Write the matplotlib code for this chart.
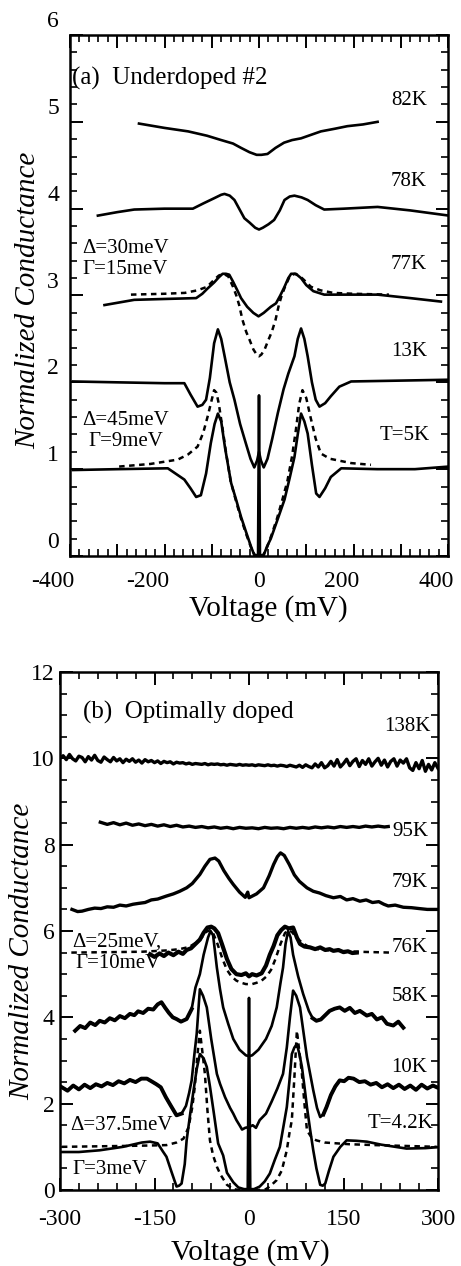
import matplotlib
matplotlib.use("Agg")
import matplotlib.pyplot as plt
import numpy as np
from matplotlib.ticker import MultipleLocator, FuncFormatter
from matplotlib.transforms import ScaledTranslation

plt.rcParams['font.family'] = ['Liberation Serif', 'DejaVu Serif']

# ---------------- Panel (a): Underdoped #2 ----------------
V82 = [-254, -200, -150, -110, -80, -55, -38, -20, -5, 5, 18, 35, 53, 70, 89, 110, 131, 160, 187, 220, 251]
G82 = [4.98, 4.93, 4.89, 4.84, 4.79, 4.75, 4.70, 4.65, 4.62, 4.62, 4.63, 4.70, 4.76, 4.79, 4.81, 4.85, 4.89, 4.92, 4.95, 4.97, 5.00]

V78 = [-341, -300, -264, -200, -140, -118, -95, -80, -73, -62, -52, -40, -31, -20, -8, 0, 8, 20, 32, 44,
       54, 65, 75, 90, 103, 120, 138, 180, 251, 320, 402]
G78 = [3.92, 3.96, 3.99, 4.00, 4.00, 4.06, 4.12, 4.16, 4.17, 4.15, 4.10, 3.98, 3.89, 3.84, 3.78, 3.76, 3.78, 3.82, 3.87, 3.98,
       4.10, 4.14, 4.15, 4.13, 4.10, 4.04, 3.99, 4.00, 4.02, 3.98, 3.92]

V77 = [-327, -264, -200, -133, -120, -109, -95, -85, -77, -70, -63, -55, -45, -38, -25, -12, -1, 10, 25, 36,
       45, 54, 62, 68, 78, 89, 100, 115, 138, 200, 251, 320, 385]
G77 = [2.89, 2.95, 2.96, 2.97, 3.02, 3.08, 3.15, 3.21, 3.25, 3.25, 3.24, 3.16, 3.05, 2.97, 2.87, 2.80, 2.76, 2.80, 2.87, 2.91,
       3.00, 3.10, 3.20, 3.25, 3.25, 3.20, 3.12, 3.05, 3.01, 3.01, 3.01, 2.97, 2.93]

V77fit = [-271, -200, -157, -130, -110, -95, -85, -75, -65, -55, -48, -42, -35, -27, -20, -12, -5, 0,
          5, 12, 20, 27, 35, 42, 48, 55, 65, 75, 85, 95, 110, 130, 157, 200, 275]
G77fit = [3.01, 3.02, 3.03, 3.06, 3.10, 3.18, 3.23, 3.25, 3.22, 3.10, 3.00, 2.89, 2.72, 2.58, 2.49, 2.38, 2.32, 2.30,
          2.32, 2.38, 2.49, 2.58, 2.72, 2.89, 3.00, 3.10, 3.22, 3.25, 3.23, 3.18, 3.10, 3.06, 3.03, 3.02, 3.01]

V13 = [-394, -300, -200, -158, -145, -130, -120, -112, -104, -95, -87, -80, -72, -62, -52, -40, -28, -18, -10, -4,
       0, 4, 10, 18, 28, 40, 52, 62, 75, 82, 89, 96, 103, 112, 120, 128, 140, 152, 170, 195, 300, 402]
G13 = [2.01, 2.00, 1.99, 1.99, 1.86, 1.72, 1.74, 1.80, 2.05, 2.45, 2.61, 2.50, 2.28, 2.00, 1.80, 1.52, 1.30, 1.12, 1.02, 1.10,
       1.20, 1.10, 1.02, 1.12, 1.35, 1.65, 1.92, 2.10, 2.30, 2.50, 2.62, 2.50, 2.30, 2.00, 1.80, 1.72, 1.76, 1.84, 1.95, 2.01, 2.02, 2.03]

V5 = [-394, -300, -193, -158, -145, -133, -123, -112, -102, -94, -87, -80, -72, -59, -48, -38, -27, -17, -10, -2,
      0, 2, 10, 17, 25, 38, 54, 65, 75, 82, 89, 96, 103, 112, 121, 128, 140, 152, 174, 250, 330, 402]
G5 = [0.99, 1.00, 1.01, 0.88, 0.78, 0.68, 0.70, 0.95, 1.30, 1.52, 1.64, 1.55, 1.25, 0.84, 0.64, 0.45, 0.27, 0.11, 0.01, 0.01,
      1.85, 0.01, 0.01, 0.11, 0.20, 0.40, 0.65, 0.90, 1.14, 1.40, 1.64, 1.55, 1.41, 1.05, 0.72, 0.68, 0.78, 0.91, 1.01, 1.00, 1.00, 1.03]

V5fit = [-296, -230, -172, -150, -130, -118, -109, -100, -95, -90, -85, -78, -70, -60, -48, -38, -27, -17, -8, 0,
         8, 17, 27, 38, 48, 60, 70, 78, 85, 92, 100, 109, 120, 131, 150, 195, 237]
G5fit = [1.03, 1.06, 1.11, 1.17, 1.26, 1.42, 1.60, 1.80, 1.91, 1.88, 1.75, 1.50, 1.20, 0.86, 0.62, 0.43, 0.25, 0.10, 0.0, 0.0,
         0.0, 0.10, 0.25, 0.43, 0.62, 0.86, 1.15, 1.45, 1.75, 1.91, 1.82, 1.60, 1.35, 1.18, 1.12, 1.07, 1.05]

# ---------------- Panel (b): Optimally doped ----------------
V138 = [-300, -295, -290, -285, -280, -275, -270, -265, -260, -255,
        -250, -245, -240, -235, -230, -225, -220, -215, -210, -205,
        -200, -195, -190, -185, -180, -175, -170, -165, -160, -155,
        -150, -145, -140, -135, -130, -125, -120, -115, -110, -105,
        -100, -95, -90, -85, -80, -75, -70, -65, -60, -55,
        -50, -45, -40, -35, -30, -25, -20, -15, -10, -5,
        0, 5, 10, 15, 20, 25, 30, 35, 40, 45,
        50, 55, 60, 65, 70, 75, 80, 85, 90, 95,
        100, 105, 110, 115, 120, 125, 130, 135, 140, 145,
        150, 155, 160, 165, 170, 175, 180, 185, 190, 195,
        200, 205, 210, 215, 220, 225, 230, 235, 240, 245,
        250, 255, 260, 265, 270, 275, 280, 285, 290, 295, 300]
G138 = [10.00, 10.06, 9.97, 10.09, 9.99, 9.94, 10.05, 10.02, 9.92, 10.04,
        9.96, 10.07, 9.95, 9.91, 10.03, 9.97, 9.92, 10.02, 9.94, 9.99,
        9.90, 9.98, 9.93, 9.99, 9.91, 9.96, 9.89, 9.97, 9.92, 9.95,
        9.90, 9.94, 9.88, 9.93, 9.90, 9.92, 9.87, 9.91, 9.89, 9.90,
        9.87, 9.89, 9.86, 9.88, 9.87, 9.86, 9.88, 9.85, 9.87, 9.86,
        9.87, 9.85, 9.86, 9.84, 9.86, 9.85, 9.84, 9.86, 9.84, 9.85,
        9.84, 9.85, 9.83, 9.85, 9.84, 9.83, 9.85, 9.83, 9.84, 9.82,
        9.84, 9.83, 9.81, 9.84, 9.82, 9.80, 9.84, 9.79, 9.85, 9.81,
        9.78, 9.87, 9.80, 9.90, 9.78, 9.83, 9.93, 9.82, 9.97, 9.80,
        9.88, 9.98, 9.83, 9.93, 9.99, 9.81, 9.95, 9.86, 9.99, 9.82,
        9.92, 10.00, 9.84, 9.96, 9.80, 9.93, 9.99, 9.82, 9.96, 9.89,
        9.99, 9.78, 9.72, 9.90, 9.76, 9.95, 9.70, 9.86, 9.73, 9.90, 9.77]

V95 = [-236, -225, -215, -205, -195, -185, -175, -165, -155, -145, -135, -125, -115, -105, -95, -85, -75, -65, -55, -45,
       -35, -25, -15, -5, 5, 15, 25, 35, 45, 55, 65, 75, 85, 95, 105, 115, 125, 135, 145, 155, 165, 175, 185, 195, 205, 215, 221]
G95 = [8.52, 8.47, 8.51, 8.46, 8.50, 8.45, 8.48, 8.44, 8.47, 8.43, 8.46, 8.42, 8.45, 8.41, 8.43, 8.40, 8.42, 8.39, 8.41, 8.38,
       8.40, 8.37, 8.40, 8.38, 8.39, 8.37, 8.40, 8.38, 8.39, 8.37, 8.40, 8.38, 8.40, 8.38, 8.41, 8.39, 8.41, 8.39, 8.42, 8.40,
       8.42, 8.40, 8.43, 8.41, 8.43, 8.41, 8.42]

V79 = [-281, -272, -265, -255, -245, -235, -225, -215, -205, -195, -184, -175, -165, -155, -145, -131, -120, -110, -99, -90,
       -78, -70, -62, -54, -48, -40, -32, -25, -15, -6, -2, 0, 4, 12, 23, 32, 39, 45, 50, 56,
       64, 72, 80, 92, 102, 112, 122, 134, 145, 155, 165, 176, 186, 196, 206, 214, 221, 232, 245, 258, 270, 283, 298]
G79 = [6.50, 6.45, 6.46, 6.50, 6.53, 6.52, 6.56, 6.55, 6.60, 6.58, 6.62, 6.64, 6.66, 6.72, 6.74, 6.81, 6.86, 6.92, 7.00, 7.10,
       7.31, 7.50, 7.66, 7.69, 7.62, 7.40, 7.22, 7.08, 6.90, 6.78, 6.90, 6.77, 6.80, 6.86, 7.00, 7.28, 7.54, 7.72, 7.81, 7.75,
       7.54, 7.30, 7.15, 7.00, 6.92, 6.88, 6.82, 6.77, 6.80, 6.72, 6.75, 6.69, 6.72, 6.66, 6.68, 6.62, 6.58, 6.60, 6.55, 6.54, 6.52, 6.50, 6.50]

V76 = [-157, -150, -142, -135, -128, -120, -112, -105, -99, -92, -85, -78, -72, -66, -60, -55, -49, -43, -35, -28,
       -20, -12, -5, 0, 5, 12, 20, 27, 33, 39, 45, 51, 57, 63, 70, 76, 81, 88, 97, 105,
       113, 121, 128, 134, 142, 150, 157, 164, 171]
G76 = [5.46, 5.40, 5.48, 5.42, 5.50, 5.44, 5.52, 5.47, 5.56, 5.60, 5.70, 5.80, 5.96, 6.08, 6.10, 6.06, 5.95, 5.70, 5.35, 5.12,
       5.00, 4.98, 5.02, 4.95, 5.00, 4.97, 5.02, 5.20, 5.45, 5.65, 5.90, 6.02, 6.10, 6.06, 6.08, 5.85, 5.70, 5.64, 5.62, 5.58,
       5.62, 5.56, 5.58, 5.54, 5.56, 5.51, 5.53, 5.49, 5.50]

V76fit = [-282, -220, -170, -130, -110, -95, -85, -75, -68, -62, -57, -50, -42, -35, -28, -20, -12, -5, 0,
          5, 12, 20, 28, 35, 42, 50, 57, 62, 68, 75, 85, 95, 110, 130, 170, 225]
G76fit = [5.50, 5.51, 5.52, 5.55, 5.58, 5.63, 5.72, 5.85, 5.98, 6.02, 5.95, 5.70, 5.35, 5.10, 4.95, 4.85, 4.80, 4.77, 4.77,
          4.77, 4.80, 4.85, 4.95, 5.10, 5.35, 5.70, 5.95, 6.02, 5.98, 5.85, 5.72, 5.63, 5.58, 5.55, 5.52, 5.50]

V58 = [-276, -268, -260, -252, -244, -237, -229, -221, -213, -205, -197, -189, -182, -176, -168, -160, -152, -145, -139, -133,
       -127, -121, -115, -108, -99, -91, -85, -78, -72, -65, -61, -57, -51, -46, -41, -33, -25, -15, -5, 0,
       5, 15, 27, 36, 44, 50, 54, 58, 62, 66, 70, 78, 86, 95, 101, 107, 114, 121, 128, 136,
       144, 152, 160, 168, 176, 187, 195, 203, 211, 219, 229, 237, 245]
G58 = [3.69, 3.80, 3.75, 3.88, 3.82, 3.92, 3.88, 3.98, 3.93, 4.03, 3.98, 4.08, 4.05, 4.14, 4.10, 4.20, 4.18, 4.30, 4.35, 4.22,
       4.10, 4.00, 3.96, 3.90, 3.96, 4.19, 4.69, 5.00, 5.45, 5.85, 6.00, 5.90, 5.15, 4.65, 4.23, 3.85, 3.50, 3.25, 3.12, 3.10,
       3.12, 3.25, 3.50, 3.80, 4.23, 4.80, 5.15, 5.70, 6.00, 5.85, 5.45, 4.95, 4.54, 4.15, 3.98, 3.92, 3.95, 4.05, 4.15, 4.20,
       4.23, 4.15, 4.22, 4.10, 4.15, 4.04, 4.08, 3.95, 4.00, 3.85, 3.81, 3.90, 3.76]

V10 = [-297, -288, -279, -270, -261, -252, -243, -234, -225, -216, -207, -198, -189, -180, -171, -162, -155, -147, -140, -132,
       -124, -115, -107, -100, -95, -91, -87, -83, -78, -73, -67, -60, -51, -46, -38, -30, -25, -20, -15, -11,
       -6, 0, 6, 11, 17, 27, 36, 45, 54, 60, 65, 70, 75, 81, 87, 92, 102, 108, 113, 118,
       123, 130, 137, 144, 151, 158, 166, 175, 184, 193, 202, 211, 220, 229, 238, 247, 256, 265, 274, 283, 292, 298]
G10 = [2.38, 2.30, 2.42, 2.33, 2.44, 2.36, 2.45, 2.40, 2.48, 2.43, 2.52, 2.47, 2.55, 2.50, 2.58, 2.58, 2.52, 2.45, 2.38, 2.15,
       1.95, 1.73, 1.77, 1.95, 2.25, 2.54, 3.10, 3.62, 4.65, 4.50, 4.23, 3.50, 2.69, 2.46, 2.15, 1.90, 1.77, 1.62, 1.50, 1.40,
       1.44, 1.46, 1.50, 1.44, 1.62, 1.77, 2.05, 2.35, 2.69, 3.30, 4.00, 4.62, 4.50, 4.23, 3.60, 3.08, 2.31, 1.90, 1.69, 1.75,
       1.92, 2.20, 2.40, 2.54, 2.52, 2.60, 2.58, 2.50, 2.52, 2.44, 2.48, 2.38, 2.45, 2.36, 2.44, 2.34, 2.42, 2.32, 2.44, 2.35, 2.42, 2.38]

V42 = [-297, -270, -237, -200, -170, -157, -145, -137, -131, -123, -115, -111, -107, -102, -99, -93, -88, -83, -78, -72,
       -67, -62, -56, -49, -41, -35, -25, -17, -8, -2, 0, 2, 8, 17, 25, 33, 41, 49, 55, 60,
       64, 68, 72, 76, 80, 84, 88, 92, 97, 102, 107, 113, 117, 121, 127, 134, 145, 155, 170, 187, 210, 250, 280, 298]
G42 = [0.88, 0.88, 0.92, 1.00, 1.10, 1.12, 1.08, 0.90, 0.77, 0.42, 0.08, 0.10, 0.15, 0.60, 1.15, 1.80, 2.31, 2.80, 3.15, 3.05,
       2.85, 2.40, 1.80, 1.08, 0.80, 0.40, 0.18, 0.06, 0.02, 0.02, 4.45, 0.02, 0.02, 0.08, 0.20, 0.38, 0.70, 1.00, 1.50, 1.92,
       2.50, 3.15, 3.30, 3.38, 3.15, 2.85, 2.40, 1.92, 1.40, 0.92, 0.50, 0.12, 0.10, 0.15, 0.45, 0.77, 1.00, 1.15, 1.14, 1.12, 1.05, 0.96, 0.97, 0.99]

V42fit = [-297, -250, -200, -160, -131, -115, -104, -96, -90, -86, -82, -78, -74, -70, -66, -62, -57, -51, -45, -35,
          -25, -15, 0, 15, 27, 36, 44, 52, 60, 64, 68, 72, 76, 80, 84, 88, 92, 100, 107, 120, 140, 160, 200, 250, 298]
G42fit = [1.00, 1.01, 1.02, 1.03, 1.04, 1.10, 1.19, 1.45, 1.92, 2.40, 3.10, 3.69, 3.20, 2.69, 1.85, 1.15, 0.80, 0.54, 0.35, 0.12,
          0.02, 0.0, 0.0, 0.0, 0.02, 0.12, 0.23, 0.45, 0.92, 1.30, 1.62, 2.60, 3.69, 3.20, 2.69, 2.00, 1.38, 1.20, 1.15, 1.10,
          1.08, 1.06, 1.04, 1.02, 1.00]

# ---------------- Figure ----------------
W, H = 461, 1266
fig = plt.figure(figsize=(W / 100, H / 100), dpi=100)
axA = fig.add_axes([70 / W, (H - 556) / H, 378 / W, 521 / H])
axB = fig.add_axes([60 / W, (H - 1190) / H, 378 / W, 518 / H])

SOLID = dict(color='black', lw=1.9, solid_joinstyle='round')
NOISY = dict(color='black', lw=2.4, solid_joinstyle='round')
THICK = dict(color='black', lw=2.8, solid_joinstyle='round')
DASH = dict(color='black', lw=1.8, linestyle=(0, (2.2, 1.8)))

def style(ax):
    ax.tick_params(which='both', direction='in', top=True, right=True)
    ax.tick_params(which='major', length=9, width=1.4, labelsize=17)
    ax.tick_params(which='minor', length=5, width=1.2)
    for s in ax.spines.values():
        s.set_linewidth(1.8)

# Panel (a)
axA.plot(V82, G82, **SOLID)
axA.plot(V78, G78, **SOLID)
axA.plot(V77, G77, **SOLID)
axA.plot(V77fit, G77fit, **DASH)
axA.plot(V13, G13, **SOLID)
axA.plot(V5, G5, **SOLID)
axA.plot(V5fit, G5fit, **DASH)
axA.set_xlim(-400, 400)
axA.set_ylim(0, 6)
style(axA)
axA.tick_params(axis='x', which='major', pad=11)
axA.tick_params(axis='y', which='major', pad=8)
axA.xaxis.set_major_locator(MultipleLocator(100))
axA.xaxis.set_minor_locator(MultipleLocator(20))
axA.yaxis.set_major_locator(MultipleLocator(1))
axA.yaxis.set_minor_locator(MultipleLocator(0.2))
axA.xaxis.set_major_formatter(FuncFormatter(lambda v, p: f"{int(round(v))}" if round(v) % 200 == 0 else ""))
axA.yaxis.set_major_formatter(FuncFormatter(lambda v, p: f"{int(round(v))}"))

fs_lab = 15
axA.text(0.005, 0.917, "(a)  Underdoped #2", transform=axA.transAxes, fontsize=18, va='center', ha='left')
axA.text(0.944, 0.875, "82K", transform=axA.transAxes, fontsize=fs_lab, va='center', ha='right')
axA.text(0.944, 0.718, "78K", transform=axA.transAxes, fontsize=fs_lab, va='center', ha='right')
axA.text(0.944, 0.559, "77K", transform=axA.transAxes, fontsize=fs_lab, va='center', ha='right')
axA.text(0.944, 0.392, "13K", transform=axA.transAxes, fontsize=fs_lab, va='center', ha='right')
axA.text(0.952, 0.232, "T=5K", transform=axA.transAxes, fontsize=fs_lab, va='center', ha='right')
axA.text(0.032, 0.591, "Δ=30meV", transform=axA.transAxes, fontsize=fs_lab, va='center', ha='left')
axA.text(0.032, 0.549, "Γ=15meV", transform=axA.transAxes, fontsize=fs_lab, va='center', ha='left')
axA.text(0.032, 0.261, "Δ=45meV", transform=axA.transAxes, fontsize=fs_lab, va='center', ha='left')
axA.text(0.048, 0.219, "Γ=9meV", transform=axA.transAxes, fontsize=fs_lab, va='center', ha='left')
axA.text(-0.111, 0.491, "Normalized Conductance", transform=axA.transAxes, fontsize=21,
         style='italic', rotation=90, va='center', ha='center')
axA.text(0.524, -0.10, "Voltage (mV)", transform=axA.transAxes, fontsize=21, va='center', ha='center')

# tick labels shifted as in the scanned original
for tk in axA.yaxis.get_major_ticks():
    tk.label1.set_transform(tk.label1.get_transform() + ScaledTranslation(0, 0.16, fig.dpi_scale_trans))
xlocs = axA.xaxis.get_majorticklocs()
for tk, loc in zip(axA.xaxis.get_major_ticks(len(xlocs)), xlocs):
    dx = -0.17 if loc < 0 else (-0.12 if loc > 0 else 0.0)
    tk.label1.set_transform(tk.label1.get_transform() + ScaledTranslation(dx, 0, fig.dpi_scale_trans))

# Panel (b)
axB.plot(V138, G138, **NOISY)
axB.plot(V95, G95, **NOISY)
axB.plot(V79, G79, **NOISY)
axB.plot(V76, G76, color='black', lw=3.0)
axB.plot(V76fit, G76fit, **DASH)
axB.plot(V58, G58, **SOLID)
axB.plot(V10, G10, **SOLID)
axB.plot(V42, G42, **SOLID)
axB.plot(V42fit, G42fit, **DASH)
# noisy outer parts of the 58K and 10K curves appear heavier
v58, g58 = np.array(V58), np.array(G58)
axB.plot(np.where(v58 <= -91, v58, np.nan), g58, **THICK)
axB.plot(np.where(v58 >= 101, v58, np.nan), g58, **THICK)
v10, g10 = np.array(V10), np.array(G10)
axB.plot(np.where(v10 <= -107, v10, np.nan), g10, **THICK)
axB.plot(np.where(v10 >= 118, v10, np.nan), g10, **THICK)

axB.set_xlim(-300, 300)
axB.set_ylim(0, 12)
style(axB)
axB.tick_params(axis='x', which='major', pad=14)
axB.tick_params(axis='y', which='major', pad=4)
axB.xaxis.set_major_locator(MultipleLocator(150))
axB.xaxis.set_minor_locator(MultipleLocator(30))
axB.yaxis.set_major_locator(MultipleLocator(2))
axB.yaxis.set_minor_locator(MultipleLocator(0.5))
axB.xaxis.set_major_formatter(FuncFormatter(lambda v, p: f"{int(round(v))}"))
axB.yaxis.set_major_formatter(FuncFormatter(lambda v, p: f"{int(round(v))}"))

axB.text(0.061, 0.921, "(b)  Optimally doped", transform=axB.transAxes, fontsize=18, va='center', ha='left')
axB.text(0.979, 0.894, "138K", transform=axB.transAxes, fontsize=fs_lab, va='center', ha='right')
axB.text(0.974, 0.693, "95K", transform=axB.transAxes, fontsize=fs_lab, va='center', ha='right')
axB.text(0.972, 0.593, "79K", transform=axB.transAxes, fontsize=fs_lab, va='center', ha='right')
axB.text(0.972, 0.469, "76K", transform=axB.transAxes, fontsize=fs_lab, va='center', ha='right')
axB.text(0.972, 0.373, "58K", transform=axB.transAxes, fontsize=fs_lab, va='center', ha='right')
axB.text(0.972, 0.236, "10K", transform=axB.transAxes, fontsize=fs_lab, va='center', ha='right')
axB.text(0.987, 0.129, "T=4.2K", transform=axB.transAxes, fontsize=fs_lab, va='center', ha='right')
axB.text(0.032, 0.479, "Δ=25meV,", transform=axB.transAxes, fontsize=fs_lab, va='center', ha='left')
axB.text(0.040, 0.438, "Γ=10meV", transform=axB.transAxes, fontsize=fs_lab, va='center', ha='left')
axB.text(0.026, 0.125, "Δ=37.5meV", transform=axB.transAxes, fontsize=fs_lab, va='center', ha='left')
axB.text(0.034, 0.039, "Γ=3meV", transform=axB.transAxes, fontsize=fs_lab, va='center', ha='left')
axB.text(-0.10, 0.461, "Normalized Conductance", transform=axB.transAxes, fontsize=21,
         style='italic', rotation=90, va='center', ha='center')
axB.text(0.503, -0.12, "Voltage (mV)", transform=axB.transAxes, fontsize=21, va='center', ha='center')

fig.savefig("out.png", dpi=100)
